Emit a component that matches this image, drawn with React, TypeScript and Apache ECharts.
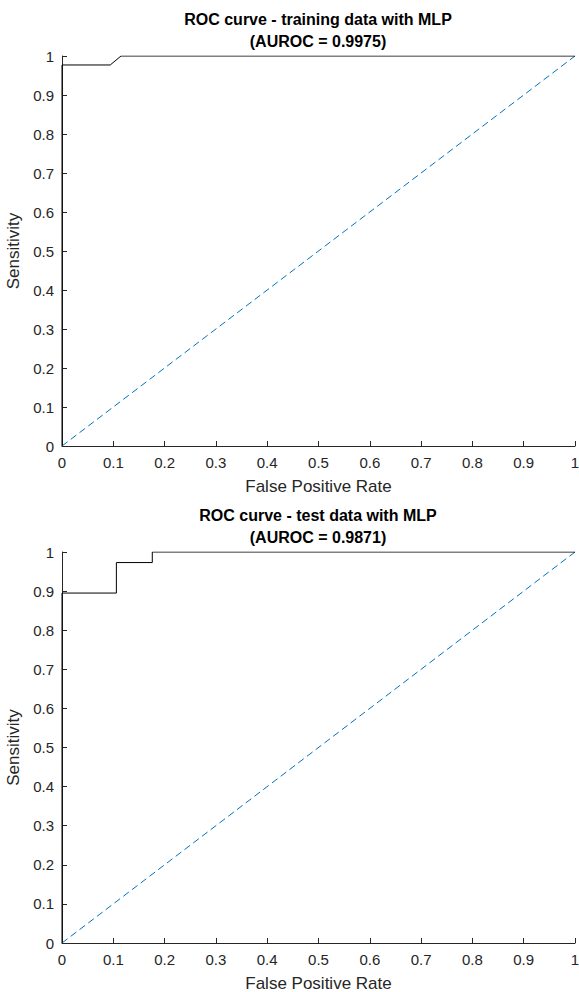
import React, { useEffect, useRef } from "react";
import * as echarts from "echarts";

const trainFpr = [0, 0, 0.094, 0.115, 1];
const trainTpr = [0, 0.977, 0.977, 1, 1];
const testFpr = [0, 0, 0.106, 0.106, 0.176, 0.176, 1];
const testTpr = [0, 0.895, 0.895, 0.973, 0.973, 1, 1];
const chanceLine = [0, 1];
const titles = [
  "ROC curve - training data with MLP\n(AUROC = 0.9975)",
  "ROC curve - test data with MLP\n(AUROC = 0.9871)",
];
const xName = "False Positive Rate";
const yName = "Sensitivity";

const FONT = "'Liberation Sans', Arial, sans-serif";
const AX = "#262626";

function zip(a: number[], b: number[]) {
  return a.map((v, i) => [v, b[i]]);
}

export default function App() {
  const ref = useRef<HTMLDivElement>(null);
  useEffect(() => {
    if (!ref.current) return;
    const chart = echarts.init(ref.current, undefined, { renderer: "svg" });
    const grids = [
      { left: 62, top: 56, width: 513, height: 390, outerBoundsMode: "none", containLabel: false },
      { left: 62, top: 552, width: 513, height: 391, outerBoundsMode: "none", containLabel: false },
    ];
    const mkX = (i: number) => ({
      type: "value",
      gridIndex: i,
      min: 0,
      max: 1,
      interval: 0.1,
      name: xName,
      nameLocation: "middle",
      nameGap: 32,
      nameTextStyle: { fontFamily: FONT, fontSize: 17, color: AX },
      axisLine: { show: true, lineStyle: { color: AX, width: 1 } },
      axisTick: { show: true, inside: true, length: 5, lineStyle: { color: AX } },
      axisLabel: { fontFamily: FONT, fontSize: 15, color: AX, margin: 9 },
      splitLine: { show: false },
    });
    const mkY = (i: number) => ({
      type: "value",
      gridIndex: i,
      min: 0,
      max: 1,
      interval: 0.1,
      name: yName,
      nameLocation: "middle",
      nameGap: 27,
      nameTextStyle: { fontFamily: FONT, fontSize: 17, color: AX },
      axisLine: { show: true, lineStyle: { color: AX, width: 1 } },
      axisTick: { show: true, inside: true, length: 5, lineStyle: { color: AX } },
      axisLabel: { fontFamily: FONT, fontSize: 15, color: AX, margin: 8 },
      splitLine: { show: false },
    });
    const curves = [zip(trainFpr, trainTpr), zip(testFpr, testTpr)];
    const series: any[] = [];
    [0, 1].forEach((i) => {
      series.push({
        type: "line",
        xAxisIndex: i,
        yAxisIndex: i,
        data: zip(chanceLine, chanceLine),
        showSymbol: false,
        symbol: "none",
        lineStyle: { color: "#0072BD", width: 1, type: [7, 4] },
      });
      series.push({
        type: "line",
        xAxisIndex: i,
        yAxisIndex: i,
        data: curves[i],
        showSymbol: false,
        symbol: "none",
        lineStyle: { color: "#000000", width: 1 },
      });
    });
    const titleStyle = { fontFamily: FONT, fontSize: 16, fontWeight: "bold", color: "#000", lineHeight: 22 };
    chart.setOption({
      animation: false,
      backgroundColor: "#ffffff",
      title: [
        { text: titles[0], left: 318, top: 8, textAlign: "center", padding: 0, textStyle: titleStyle },
        { text: titles[1], left: 318, top: 504, textAlign: "center", padding: 0, textStyle: titleStyle },
      ],
      grid: grids,
      xAxis: [mkX(0), mkX(1)],
      yAxis: [mkY(0), mkY(1)],
      series,
    });
    return () => chart.dispose();
  }, []);
  return (
    <div
      ref={ref}
      style={{ width: 579, height: 992, position: "absolute", left: 0, top: 0, background: "#fff" }}
    />
  );
}
